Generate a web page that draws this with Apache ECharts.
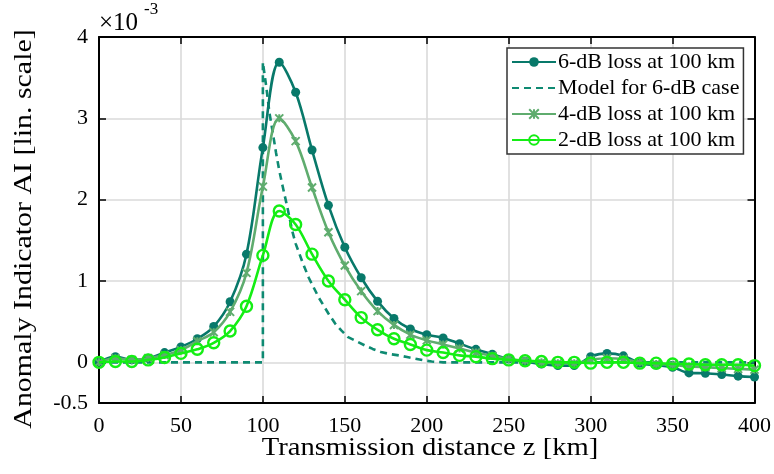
<!DOCTYPE html>
<html>
<head>
<meta charset="utf-8">
<script src="https://cdn.jsdelivr.net/npm/echarts@6/dist/echarts.min.js"></script>
<style>
  html, body { margin: 0; padding: 0; background: #ffffff; }
  #chart { width: 774px; height: 474px; }
</style>
</head>
<body>
<div id="chart"></div>
<script>
// Transmission distance of each measured sample [km]
const distanceKm = [0, 10, 20, 30, 40, 50, 60, 70, 80, 90, 100, 110, 120, 130, 140, 150, 160, 170, 180, 190, 200,
  210, 220, 230, 240, 250, 260, 270, 280, 290, 300, 310, 320, 330, 340, 350, 360, 370, 380, 390, 400];

// Anomaly indicator (x 1e-3) for the three loss events at 100 km
const loss6dB = [0, 0.07, 0.03, 0.05, 0.12, 0.19, 0.29, 0.44, 0.745, 1.33, 2.64, 3.69, 3.32, 2.61, 1.93, 1.415, 1.04,
  0.75, 0.54, 0.41, 0.34, 0.30, 0.23, 0.16, 0.10, 0.04, 0.01, -0.02, -0.04, -0.04, 0.07, 0.11, 0.08, -0.01, -0.035,
  -0.06, -0.13, -0.135, -0.15, -0.17, -0.18];
const loss4dB = [0, 0.05, 0.03, 0.05, 0.09, 0.15, 0.26, 0.37, 0.62, 1.10, 2.16, 3.00, 2.72, 2.15, 1.60, 1.19, 0.875,
  0.63, 0.46, 0.34, 0.27, 0.22, 0.17, 0.12, 0.08, 0.04, 0.02, 0.0, -0.01, -0.01, 0.03, 0.05, 0.04, 0.0, -0.02, -0.03,
  -0.05, -0.06, -0.07, -0.08, -0.09];
const loss2dB = [0, 0.01, 0.01, 0.03, 0.06, 0.11, 0.16, 0.24, 0.385, 0.69, 1.315, 1.86, 1.695, 1.33, 1.0, 0.77, 0.55,
  0.40, 0.29, 0.22, 0.15, 0.12, 0.086, 0.07, 0.045, 0.03, 0.02, 0.01, 0.0, 0.0, -0.01, 0.0, 0.0, -0.01, -0.01, -0.02,
  -0.02, -0.03, -0.03, -0.03, -0.04];

// Model curve for the 6-dB case
const modelKm = [0, 100, 100, 102, 104, 106, 108, 110, 112, 115, 118, 120, 124, 128, 134, 140, 144, 148, 152, 157,
  162, 167, 172, 178, 183, 188, 193, 198, 203, 210, 400];
const model6dB = [0, 0, 3.69, 3.40, 3.07, 2.83, 2.58, 2.36, 2.17, 1.90, 1.61, 1.46, 1.24, 1.04, 0.80, 0.60, 0.48,
  0.39, 0.31, 0.26, 0.21, 0.165, 0.127, 0.10, 0.085, 0.065, 0.045, 0.025, 0.01, 0.0, 0.0];

// Axis tick positions
const yTickValues = [-0.5, 0, 1, 2, 3, 4];
const yLabelValues = [-0.5, 0, 1, 2, 3, 4];

const seriesNames = ['6-dB loss at 100 km', 'Model for 6-dB case', '4-dB loss at 100 km', '2-dB loss at 100 km'];
const xAxisTitle = 'Transmission distance z [km]';
const yAxisTitle = 'Anomaly Indicator AI [lin. scale]';

const C6 = '#08796a';
const CM = '#0e8a72';
const C4 = '#5fac6e';
const C2 = '#14ee14';
const FONT = 'Liberation Serif';

const pairs = (xs, ys) => xs.map((x, i) => [x, ys[i]]);

const chart = echarts.init(document.getElementById('chart'), null, { renderer: 'canvas' });

const gridBox = { left: 99, top: 37, width: 660, height: 366 };
const axisLineStyle = { show: true, lineStyle: { color: '#000', width: 2 } };
const tickStyle = { color: '#000', width: 1.5 };

chart.setOption({
  backgroundColor: '#ffffff',
  animation: false,
  textStyle: { fontFamily: FONT },
  grid: Object.assign({ containLabel: false }, gridBox),
  legend: {
    data: [
      { name: seriesNames[0] },
      { name: seriesNames[1], itemStyle: { opacity: 0 } },
      { name: seriesNames[2] },
      { name: seriesNames[3] }
    ],
    orient: 'vertical',
    left: 507,
    top: 48,
    padding: [3, 4, 3, 4],
    itemGap: 4,
    itemWidth: 44,
    itemHeight: 12,
    backgroundColor: '#ffffff',
    borderColor: '#333333',
    borderWidth: 1.5,
    borderRadius: 0,
    textStyle: { fontFamily: FONT, fontSize: 22, color: '#000', padding: [0, 0, 0, -3] }
  },
  xAxis: [
    {
      type: 'value', min: 0, max: 400, interval: 50, position: 'bottom',
      axisLine: Object.assign({ onZero: false }, axisLineStyle),
      axisTick: { show: true, inside: true, length: 7, lineStyle: tickStyle },
      axisLabel: { fontFamily: FONT, fontSize: 22, color: '#000', margin: 12 },
      splitLine: { show: true, lineStyle: { color: '#dadada', width: 1.6 } }
    },
    {
      type: 'value', min: 0, max: 400, interval: 50, position: 'top',
      axisLine: Object.assign({ onZero: false }, axisLineStyle),
      axisTick: { show: true, inside: true, length: 7, lineStyle: tickStyle },
      axisLabel: { show: false },
      splitLine: { show: false }
    }
  ],
  yAxis: [
    {
      type: 'value', min: -0.5, max: 4, position: 'left',
      axisLine: Object.assign({ onZero: false }, axisLineStyle),
      axisTick: { show: true, inside: true, length: 7, customValues: yTickValues, lineStyle: tickStyle },
      axisLabel: { fontFamily: FONT, fontSize: 22, color: '#000', margin: 11, customValues: yLabelValues },
      splitLine: { show: true, lineStyle: { color: '#dadada', width: 1.6 } }
    },
    {
      type: 'value', min: -0.5, max: 4, position: 'right',
      axisLine: Object.assign({ onZero: false }, axisLineStyle),
      axisTick: { show: true, inside: true, length: 7, customValues: yTickValues, lineStyle: tickStyle },
      axisLabel: { show: false, customValues: yLabelValues },
      splitLine: { show: false }
    }
  ],
  graphic: [
    {
      // exponent of the y axis
      type: 'text', left: 99, top: 1, z: 10,
      style: {
        text: '{a|\u00d710}{b|-3}',
        rich: {
          a: { fontFamily: FONT, fontSize: 25, fill: '#000', verticalAlign: 'bottom', padding: [10, 0, 0, 0] },
          b: { fontFamily: FONT, fontSize: 17, fill: '#000', verticalAlign: 'top', padding: [0, 0, 16, 6] }
        }
      }
    },
    {
      // x axis title
      type: 'text', x: 430, y: 448, scaleX: 1.1, z: 10,
      style: {
        text: xAxisTitle, fontFamily: FONT, fontSize: 26, fill: '#000',
        align: 'center', verticalAlign: 'middle'
      }
    },
    {
      // y axis title
      type: 'text', x: 24, y: 229, rotation: Math.PI / 2, scaleX: 1.15, z: 10,
      style: {
        text: yAxisTitle, fontFamily: FONT, fontSize: 26, fill: '#000',
        align: 'center', verticalAlign: 'middle'
      }
    }
  ],
  series: [
    {
      name: seriesNames[0], type: 'line', xAxisIndex: 0, yAxisIndex: 0,
      data: pairs(distanceKm, loss6dB), smooth: 0.35,
      symbol: 'circle', symbolSize: 9, showAllSymbol: true,
      itemStyle: { color: C6 },
      lineStyle: { color: C6, width: 2.6 },
      z: 3
    },
    {
      name: seriesNames[1], type: 'line', xAxisIndex: 0, yAxisIndex: 0,
      data: pairs(modelKm, model6dB), smooth: false,
      symbol: 'none',
      itemStyle: { color: CM },
      lineStyle: { color: CM, width: 2.6, type: [7, 5] },
      z: 2
    },
    {
      name: seriesNames[2], type: 'line', xAxisIndex: 0, yAxisIndex: 0,
      data: pairs(distanceKm, loss4dB), smooth: 0.35,
      symbol: 'path://M0,0L10,10M10,0L0,10M5,0L5,10', symbolSize: 8, showAllSymbol: true,
      itemStyle: { color: C4, borderColor: C4, borderWidth: 2 },
      lineStyle: { color: C4, width: 2.6 },
      z: 4
    },
    {
      name: seriesNames[3], type: 'line', xAxisIndex: 0, yAxisIndex: 0,
      data: pairs(distanceKm, loss2dB), smooth: 0.35,
      symbol: 'circle', symbolSize: 11, showAllSymbol: true,
      itemStyle: { color: 'rgba(255,255,255,0)', borderColor: C2, borderWidth: 2.4 },
      lineStyle: { color: C2, width: 2.6 },
      z: 5
    }
  ]
});
</script>
</body>
</html>
